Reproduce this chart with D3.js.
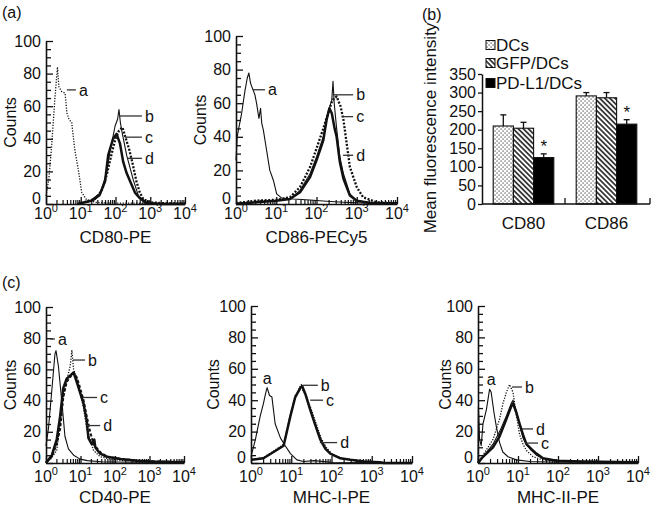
<!DOCTYPE html>
<html><head><meta charset="utf-8">
<script src="https://cdn.jsdelivr.net/npm/d3@7"></script>
<style>
body{margin:0;background:#fff}
svg{display:block}
text{font-family:"Liberation Sans",Arial,Helvetica,sans-serif;fill:#111}
</style>
</head><body><svg id="c" width="652" height="507"></svg>
<script>
// ---------- DATA (x = log10 fluorescence, y = counts) ----------
const cd80A = [[0,5],[0.08,15],[0.16,35],[0.26,66],[0.33,84],[0.37,72],[0.45,69],[0.55,68],[0.6,56],[0.66,52],[0.74,50],[0.83,33],[0.93,21],[1.03,7],[1.17,2.5],[1.45,1],[1.8,0.5],[2.5,0.5],[3.2,0.3],[4,0.3]];
const cd80B = [[0.9,0],[1.0,0.3],[1.36,2],[1.55,5],[1.75,20],[1.84,32],[1.99,48],[2.06,52],[2.1,58],[2.14,50],[2.18,45],[2.32,30],[2.51,15],[2.66,5],[2.9,1],[3.3,0.3],[4,0]];
const cd80C = [[1.0,0.5],[1.4,3],[1.6,8],[1.75,18],[1.88,30],[2.0,40],[2.1,45],[2.2,47],[2.3,40],[2.4,33],[2.5,24],[2.6,14],[2.7,7],[2.8,3],[3.0,1],[3.4,0.5],[4,0.3]];
const cd80D = [[0.9,0],[1.3,2],[1.55,6],[1.7,14],[1.79,30],[1.93,40],[2.03,43],[2.13,37],[2.22,26],[2.32,19],[2.42,14],[2.56,7],[2.7,3.5],[2.9,0.5],[3.3,0],[4,0]];
const cd80Labels = [["a",0.6,0.86,70],["b",2.1,2.76,54],["c",2.27,2.76,41],["d",2.36,2.76,28]];

const cd86A = [[0,26],[0.03,40],[0.06,44],[0.14,54],[0.22,67],[0.28,75],[0.32,78],[0.36,72],[0.39,70],[0.47,65],[0.51,60],[0.57,51],[0.61,57],[0.64,48],[0.68,44],[0.76,32],[0.84,20],[0.93,14],[1.01,6],[1.13,3.6],[1.42,3],[1.84,2.4],[2.25,1.6],[2.67,1],[3.2,0.5],[4,0.3]];
const cd86B = [[0,0.5],[0.5,1],[1.0,2],[1.34,3],[1.59,8],[1.84,18],[2.0,28],[2.17,40],[2.25,50],[2.33,58],[2.38,62],[2.41,73],[2.44,60],[2.5,45],[2.58,28],[2.67,18],[2.83,6],[3.0,2],[3.3,1],[4,0.5]];
const cd86C = [[0,0.5],[0.5,2],[1.0,2.5],[1.34,4],[1.59,10],[1.84,22],[2.0,33],[2.17,45],[2.3,55],[2.4,62],[2.5,64],[2.6,58],[2.67,50],[2.75,36],[2.83,22],[3.0,10],[3.16,4],[3.5,1],[4,0.5]];
const cd86D = [[0,0],[0.5,1],[1.0,2],[1.34,3],[1.59,7],[1.84,16],[2.0,26],[2.1,33],[2.17,38],[2.25,50],[2.32,57],[2.38,54],[2.45,45],[2.5,40],[2.58,25],[2.67,15],[2.83,5],[3.0,2],[3.3,0.8],[4,0.3]];
const cd86Labels = [["a",0.42,0.72,68],["b",2.41,2.91,65],["c",2.63,2.91,52],["d",2.66,2.91,29]];

const cd40A = [[0,11],[0.07,22],[0.17,47],[0.26,70],[0.29,72],[0.36,62],[0.46,39],[0.55,17],[0.65,9],[0.8,5],[0.99,2.5],[1.2,1.5],[1.6,0.8],[2.5,0.5],[4,0.3]];
const cd40B = [[0,0.5],[0.12,2],[0.31,8],[0.41,25],[0.5,42],[0.6,53],[0.7,62],[0.75,72],[0.8,60],[0.89,55],[0.99,45],[1.09,35],[1.18,22],[1.28,15],[1.38,8],[1.57,4],[1.77,3],[2.2,1.5],[3,1],[4,0.5]];
const cd40C = [[0,0.5],[0.17,4],[0.31,12],[0.41,22],[0.5,42],[0.6,52],[0.7,55],[0.8,58],[0.89,55],[0.99,48],[1.09,40],[1.18,30],[1.28,20],[1.38,12],[1.57,7],[1.77,4],[2.2,2.5],[2.7,1.5],[3.2,1],[4,0.5]];
const cd40D = [[0,0],[0.17,5],[0.31,15],[0.41,30],[0.5,48],[0.6,54],[0.7,56],[0.8,58],[0.89,52],[0.99,45],[1.09,38],[1.18,27],[1.23,16],[1.33,12],[1.4,15],[1.43,10],[1.57,6],[1.77,4],[2.16,2.5],[2.64,1.5],[3.1,1],[4,0.5]];
const cd40Labels = [["a",0.12,0.26,79.5],["b",0.78,1.13,66],["c",1.07,1.48,42],["d",1.19,1.57,24]];

const mhc1A = [[0,4],[0.11,15],[0.23,30],[0.31,38],[0.36,44],[0.4,48],[0.46,43],[0.52,42],[0.6,25],[0.73,16],[0.85,11],[0.98,6],[1.14,2],[1.31,1],[1.56,1.5],[2,0.5],[3,0.3],[4,0.3]];
const mhc1B = [[0,2],[0.31,3],[0.56,7],[0.81,11],[0.98,30],[1.1,42],[1.2,48],[1.25,50],[1.3,47],[1.35,44],[1.47,35],[1.6,25],[1.72,16],[1.85,10],[1.97,6],[2.22,3],[2.47,2],[2.8,1],[3.2,0.5],[3.5,0],[4,0]];
const mhc1C = [[0,2],[0.31,3.5],[0.56,7.5],[0.81,12],[0.98,31],[1.1,43],[1.22,47],[1.3,46],[1.38,42],[1.5,34],[1.62,25],[1.74,16],[1.87,10],[2.0,6],[2.25,3],[2.5,2],[2.8,1],[3.2,0.5],[3.5,0],[4,0]];
const mhc1D = [[0,2],[0.31,3],[0.56,7],[0.81,11],[0.98,30],[1.1,42],[1.23,48],[1.27,49],[1.35,44],[1.47,34],[1.6,24],[1.72,15],[1.85,9],[1.97,6],[2.22,3],[2.47,2],[2.8,1],[3.2,0.5],[3.3,0],[4,0]];
const mhc1Labels = [["a",0.4,null,54],["b",1.29,1.66,49.5],["c",1.47,1.79,40],["d",1.71,2.14,13]];

const mhc2A = [[0,0],[0.01,36],[0.04,15],[0.08,11],[0.125,25],[0.21,34],[0.29,47],[0.33,45],[0.4,32],[0.46,23],[0.54,13],[0.62,7],[0.75,4],[0.96,2],[1.3,1],[2,0.5],[4,0.3]];
const mhc2B = [[0,0],[0.125,5],[0.375,15],[0.54,28],[0.625,38],[0.71,45],[0.79,50],[0.875,45],[0.96,30],[1.04,18],[1.125,12],[1.21,8],[1.375,4],[1.625,2],[2.2,1],[3,0.5],[4,0.3]];
const mhc2C = [[0,0],[0.125,4],[0.375,12],[0.54,20],[0.71,30],[0.83,38],[0.875,40],[0.96,33],[1.04,24],[1.125,16],[1.21,12],[1.33,8],[1.46,5],[1.625,3],[2,1.5],[2.6,1],[4,0.5]];
const mhc2D = [[0,0],[0.125,4],[0.375,10],[0.54,17],[0.71,28],[0.83,36],[0.875,38],[0.96,32],[1.04,25],[1.125,18],[1.21,12],[1.33,9],[1.46,6],[1.625,3],[1.96,1.5],[2.6,1],[4,0.5]];
const mhc2Labels = [["a",0.33,null,53],["b",0.85,1.1,48.4],["d",1.1,1.375,21.7],["c",1.18,1.5,12.7]];

const countTicks = [0,20,40,60,80,100];
const decadeExps = [0,1,2,3,4];

// bar chart data
const categories = ["CD80","CD86"];
const seriesNames = ["DCs","GFP/DCs","PD-L1/DCs"];
const dcsMFI = [210,291];
const dcsErr = [30,9];
const gfpMFI = [204,286];
const gfpErr = [16,14];
const pdl1MFI = [125,215];
const pdl1Err = [10,12];
const significant = [false,false,true];
const mfiTicks = [0,50,100,150,200,250,300,350];

// ---------- DRAW ----------
const svg = d3.select("#c");
const defs = svg.append("defs");
const dots = defs.append("pattern").attr("id","dots").attr("patternUnits","userSpaceOnUse").attr("width",4).attr("height",4);
dots.append("rect").attr("width",4).attr("height",4).attr("fill","#fff");
dots.append("rect").attr("x",0.5).attr("y",0.5).attr("width",1.1).attr("height",1.1).attr("fill","#222");
dots.append("rect").attr("x",2.5).attr("y",2.5).attr("width",1.1).attr("height",1.1).attr("fill","#222");
const hatch = defs.append("pattern").attr("id","hatch").attr("patternUnits","userSpaceOnUse").attr("width",3.6).attr("height",3.6).attr("patternTransform","rotate(-45)");
hatch.append("rect").attr("width",3.6).attr("height",3.6).attr("fill","#fff");
hatch.append("line").attr("x1",1.8).attr("x2",1.8).attr("y1",0).attr("y2",3.6).attr("stroke","#111").attr("stroke-width",1.5);

const styles = {
  thin:{w:1.1,dash:null},
  dot:{w:1.3,dash:"1.2,1.5"},
  thickdot:{w:2.3,dash:"2,1.6"},
  dash:{w:2,dash:"3,2"},
  thick:{w:2.5,dash:null}
};

const panels = [
  {curves:{a:cd80A,b:cd80B,c:cd80C,d:cd80D}, st:{a:"dot",b:"thin",c:"thickdot",d:"thick"}, labels:cd80Labels, title:"CD80-PE", xl:46,xr:185,yb:204,yt:41,countsX:10,tickY:219,titleY:243},
  {curves:{a:cd86A,b:cd86B,c:cd86C,d:cd86D}, st:{a:"thin",b:"thin",c:"thickdot",d:"thick"}, labels:cd86Labels, title:"CD86-PECy5", xl:236,xr:397,yb:204,yt:36,countsX:200,tickY:219,titleY:243},
  {curves:{a:cd40A,b:cd40B,c:cd40C,d:cd40D}, st:{a:"thin",b:"dot",c:"dash",d:"thick"}, labels:cd40Labels, title:"CD40-PE", xl:46,xr:184,yb:463,yt:307,countsX:10,tickY:482,titleY:503},
  {curves:{a:mhc1A,b:mhc1B,c:mhc1C,d:mhc1D}, st:{a:"thin",b:"dot",c:"dot",d:"thick"}, labels:mhc1Labels, title:"MHC-I-PE", xl:251,xr:412,yb:463,yt:306,countsX:213,tickY:482,titleY:503},
  {curves:{a:mhc2A,b:mhc2B,c:mhc2C,d:mhc2D}, st:{a:"thin",b:"dot",c:"thin",d:"thick"}, labels:mhc2Labels, title:"MHC-II-PE", xl:478,xr:638,yb:463,yt:306,countsX:445,tickY:482,titleY:503}
];

function drawHist(p){
  const x = d3.scaleLog().domain([1,1e4]).range([p.xl,p.xr]);
  const y = d3.scaleLinear().domain([0,100]).range([p.yb,p.yt]);
  const g = svg.append("g");
  const line = d3.line().x(d=>x(Math.pow(10,d[0]))).y(d=>y(d[1]));
  ["a","b","c","d"].forEach(k=>{
    const s = styles[p.st[k]];
    g.append("path").attr("d",line(p.curves[k])).attr("fill","none")
      .attr("stroke","#111").attr("stroke-width",s.w)
      .attr("stroke-dasharray",s.dash).attr("stroke-linejoin","round");
  });
  // y axis
  const minor = d3.range(0,101,5).filter(v=>v%20!==0);
  g.append("g").attr("transform",`translate(${p.xl},0)`)
    .call(d3.axisLeft(y).tickValues(minor).tickSizeInner(-5).tickSizeOuter(0).tickFormat(""))
    .call(a=>a.select(".domain").remove()).selectAll("line").attr("stroke","#111").attr("stroke-width",1.3);
  const ya = g.append("g").attr("transform",`translate(${p.xl},0)`)
    .call(d3.axisLeft(y).tickValues(countTicks).tickSizeInner(-7).tickSizeOuter(0).tickPadding(5));
  ya.select(".domain").attr("stroke","#111").attr("stroke-width",1.6);
  ya.selectAll("line").attr("stroke","#111").attr("stroke-width",1.3);
  ya.selectAll("text").attr("font-size",16).attr("font-family","Liberation Sans, Arial, sans-serif").attr("fill","#111");
  ya.selectAll(".tick").filter(d=>d===0).select("text").attr("dy","-0.05em");
  // x axis
  const xMinor = [];
  [0,1,2,3].forEach(e=>{ for(let m=2;m<=9;m++) xMinor.push(m*Math.pow(10,e)); });
  g.append("g").attr("transform",`translate(0,${p.yb})`)
    .call(d3.axisBottom(x).tickValues(xMinor).tickSizeInner(-4).tickSizeOuter(0).tickFormat(""))
    .call(a=>a.select(".domain").remove()).selectAll("line").attr("stroke","#111").attr("stroke-width",1.2);
  const xa = g.append("g").attr("transform",`translate(0,${p.yb})`)
    .call(d3.axisBottom(x).tickValues(decadeExps.map(e=>Math.pow(10,e))).tickSizeInner(-7).tickSizeOuter(0).tickFormat(""));
  xa.select(".domain").attr("stroke","#111").attr("stroke-width",1.6);
  xa.selectAll("line").attr("stroke","#111").attr("stroke-width",1.3);
  decadeExps.forEach(e=>{
    const t = g.append("text").attr("x",x(Math.pow(10,e))).attr("y",p.tickY)
      .attr("text-anchor","middle").attr("font-size",16);
    t.append("tspan").text("10");
    t.append("tspan").attr("font-size",11).attr("dy",-7).text(e);
  });
  // curve labels
  p.labels.forEach(([n,x1,x2,c])=>{
    if(x2===null){
      g.append("text").attr("x",x(Math.pow(10,x1))).attr("y",y(c)).attr("dy","0.35em")
        .attr("text-anchor","middle").attr("font-size",16).text(n);
    } else {
      g.append("line").attr("x1",x(Math.pow(10,x1))).attr("x2",x(Math.pow(10,x2)))
        .attr("y1",y(c)).attr("y2",y(c)).attr("stroke","#333").attr("stroke-width",1.3);
      g.append("text").attr("x",x(Math.pow(10,x2))+3).attr("y",y(c)).attr("dy","0.35em")
        .attr("font-size",16).text(n);
    }
  });
  // titles
  g.append("text").attr("x",(p.xl+p.xr)/2).attr("y",p.titleY).attr("text-anchor","middle")
    .attr("font-size",17).text(p.title);
  g.append("text").attr("transform",`translate(${p.countsX},${(p.yb+p.yt)/2}) rotate(-90)`)
    .attr("dy","0.35em").attr("text-anchor","middle").attr("font-size",16).text("Counts");
}
panels.forEach(drawHist);

// ---------- bar chart ----------
const yb = d3.scaleLinear().domain([0,350]).range([204,74]);
const xb = d3.scaleBand().domain(categories).range([482,648]).paddingInner(0.27).paddingOuter(0.135);
const xs = d3.scaleBand().domain(seriesNames).range([0,xb.bandwidth()]);
const fills = ["url(#dots)","url(#hatch)","#000"];
const vals = [dcsMFI,gfpMFI,pdl1MFI];
const errs = [dcsErr,gfpErr,pdl1Err];
const bg = svg.append("g");
categories.forEach((cat,ci)=>{
  seriesNames.forEach((s,si)=>{
    const v = vals[si][ci], e = errs[si][ci];
    const bx = xb(cat)+xs(s), bw = xs.bandwidth();
    const cx = bx+bw/2;
    bg.append("line").attr("x1",cx).attr("x2",cx).attr("y1",yb(v)).attr("y2",yb(v+e)).attr("stroke","#111").attr("stroke-width",1.3);
    bg.append("line").attr("x1",cx-3).attr("x2",cx+3).attr("y1",yb(v+e)).attr("y2",yb(v+e)).attr("stroke","#111").attr("stroke-width",1.3);
    bg.append("rect").attr("x",bx).attr("y",yb(v)).attr("width",bw).attr("height",yb(0)-yb(v))
      .attr("fill",fills[si]).attr("stroke","#111").attr("stroke-width",1.1);
    if(significant[si]){
      bg.append("text").attr("x",cx).attr("y",yb(v+e)-2).attr("text-anchor","middle").attr("font-size",17).text("*");
    }
  });
});
const yax = bg.append("g").attr("transform","translate(482,0)")
  .call(d3.axisLeft(yb).tickValues(mfiTicks).tickSizeInner(4).tickSizeOuter(0).tickPadding(2));
yax.select(".domain").attr("stroke","#111").attr("stroke-width",1.5);
yax.selectAll("line").attr("stroke","#111").attr("stroke-width",1.3);
yax.selectAll("text").attr("font-size",16).attr("font-family","Liberation Sans, Arial, sans-serif").attr("fill","#111");
// x axis with ticks at group boundaries
const bounds = [xb(categories[0])+xb.bandwidth()+xb.step()*xb.paddingInner()/2, 650];
bg.append("line").attr("x1",482).attr("x2",650).attr("y1",yb(0)).attr("y2",yb(0)).attr("stroke","#111").attr("stroke-width",1.5);
bounds.forEach(b=>bg.append("line").attr("x1",b).attr("x2",b).attr("y1",yb(0)).attr("y2",yb(0)-6).attr("stroke","#111").attr("stroke-width",1.3));
categories.forEach(cat=>{
  bg.append("text").attr("x",xb(cat)+xb.bandwidth()/2).attr("y",229).attr("text-anchor","middle").attr("font-size",17).text(cat);
});
bg.append("text").attr("transform","translate(430,128) rotate(-90)").attr("dy","0.35em")
  .attr("text-anchor","middle").attr("font-size",17).text("Mean fluorescence intensity");
// legend
const legRows = [45,63,83];
seriesNames.forEach((s,i)=>{
  bg.append("rect").attr("x",486).attr("y",legRows[i]-4.5).attr("width",9).attr("height",9)
    .attr("fill",fills[i]).attr("stroke","#111").attr("stroke-width",1);
  bg.append("text").attr("x",496).attr("y",legRows[i]).attr("dy","0.35em").attr("font-size",17).text(s);
});

// panel labels
svg.append("text").attr("x",2).attr("y",18).attr("font-size",16).text("(a)");
svg.append("text").attr("x",422).attr("y",20).attr("font-size",16).text("(b)");
svg.append("text").attr("x",2).attr("y",288).attr("font-size",16).text("(c)");
</script></body></html>
